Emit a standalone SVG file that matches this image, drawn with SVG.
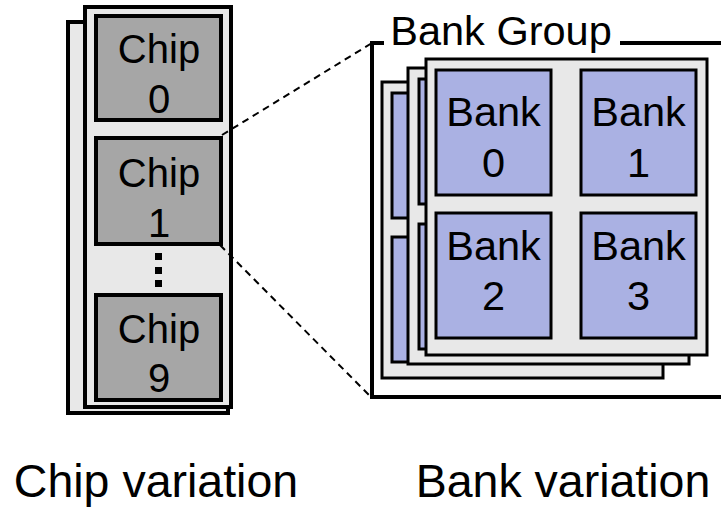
<svg xmlns="http://www.w3.org/2000/svg" width="721" height="507" viewBox="0 0 721 507">
  <style>
    text { font-family: "Liberation Sans", Arial, sans-serif; fill: #000; text-anchor: middle; }
    .lbl { font-size: 40px; }
    .blbl { font-size: 41.5px; }
    .cap { font-size: 46.5px; }
    .frame { fill: #e8e8e8; stroke: #000; stroke-width: 4; }
    .chip { fill: #a6a6a6; stroke: #000; stroke-width: 4; }
    .layer { fill: #e8e8e8; stroke: #000; stroke-width: 3; }
    .bank { fill: #aab1e3; stroke: #000; stroke-width: 3; }
    .group { fill: none; stroke: #000; stroke-width: 4; stroke-linejoin: miter; }
    .dash { fill: none; stroke: #000; stroke-width: 2; stroke-dasharray: 7 5; }
  </style>

  <!-- Chip stack (rank) -->
  <g id="rank">
    <rect class="frame" x="68" y="22" width="160" height="391"/>
    <rect class="frame" x="85" y="7" width="146" height="400"/>
  </g>
  <g id="chip0">
    <rect class="chip" x="96" y="16" width="125" height="104"/>
    <text class="lbl" x="159" y="63">Chip</text>
    <text class="lbl" x="159" y="113">0</text>
  </g>
  <g id="chip1">
    <rect class="chip" x="96" y="138" width="125" height="106"/>
    <text class="lbl" x="159" y="187">Chip</text>
    <text class="lbl" x="159" y="237">1</text>
  </g>
  <g id="ellipsis">
    <rect x="155" y="253" width="7" height="7" fill="#000"/>
    <rect x="155" y="267" width="7" height="7" fill="#000"/>
    <rect x="155" y="280" width="7" height="7" fill="#000"/>
  </g>
  <g id="chip9">
    <rect class="chip" x="96" y="295" width="125" height="105"/>
    <text class="lbl" x="159" y="343">Chip</text>
    <text class="lbl" x="159" y="392">9</text>
  </g>

  <!-- Bank group bracket -->
  <g id="bankgroup">
    <path class="group" d="M384,43 H372 V397 H725"/>
    <path class="group" d="M620,43 H725"/>
    <text class="blbl" x="501" y="45">Bank Group</text>
  </g>

  <!-- Stacked bank layers, back to front -->
  <g id="layer3">
    <rect class="layer" x="382" y="82" width="281" height="296"/>
    <rect class="bank" x="392" y="93" width="115" height="125"/>
    <rect class="bank" x="537" y="93" width="115" height="125"/>
    <rect class="bank" x="392" y="237" width="115" height="125"/>
    <rect class="bank" x="537" y="237" width="115" height="125"/>
  </g>
  <g id="layer2">
    <rect class="layer" x="408" y="68" width="281" height="296"/>
    <rect class="bank" x="419" y="79" width="115" height="125"/>
    <rect class="bank" x="563" y="79" width="115" height="125"/>
    <rect class="bank" x="419" y="224" width="115" height="125"/>
    <rect class="bank" x="563" y="224" width="115" height="125"/>
  </g>
  <g id="layer1">
    <rect class="layer" x="426" y="59" width="281" height="296"/>
  </g>
  <g id="bank0">
    <rect class="bank" x="436" y="70" width="115" height="125"/>
    <text class="blbl" x="493.5" y="126">Bank</text>
    <text class="blbl" x="493.5" y="177">0</text>
  </g>
  <g id="bank1">
    <rect class="bank" x="581" y="70" width="115" height="125"/>
    <text class="blbl" x="638.5" y="126">Bank</text>
    <text class="blbl" x="638.5" y="177">1</text>
  </g>
  <g id="bank2">
    <rect class="bank" x="436" y="213" width="115" height="125"/>
    <text class="blbl" x="493.5" y="260">Bank</text>
    <text class="blbl" x="493.5" y="310">2</text>
  </g>
  <g id="bank3">
    <rect class="bank" x="581" y="213" width="115" height="125"/>
    <text class="blbl" x="638.5" y="260">Bank</text>
    <text class="blbl" x="638.5" y="310">3</text>
  </g>

  <!-- Zoom connectors from chip 1 to the bank group -->
  <g id="connectors">
    <line class="dash" x1="222" y1="135" x2="372" y2="43"/>
    <line class="dash" x1="220" y1="245" x2="371" y2="397"/>
  </g>

  <!-- Captions -->
  <g id="captions">
    <text class="cap" x="156" y="497">Chip variation</text>
    <text class="cap" x="563" y="497">Bank variation</text>
  </g>
</svg>
